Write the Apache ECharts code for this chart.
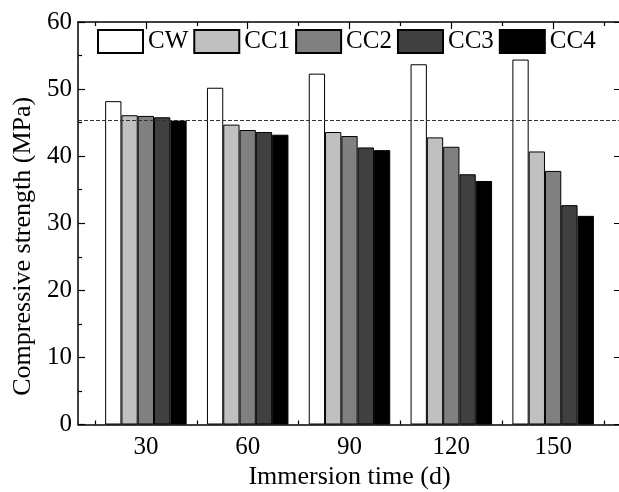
<!DOCTYPE html>
<html>
<head>
<meta charset="utf-8">
<script src="https://cdn.jsdelivr.net/npm/echarts@6/dist/echarts.min.js"></script>
<style>html,body{margin:0;padding:0;background:#fff}#c{width:619px;height:492px}</style>
</head>
<body>
<div id="c"></div>
<script>
const days = [30, 60, 90, 120, 150];
const seriesNames = ['CW', 'CC1', 'CC2', 'CC3', 'CC4'];
const cw  = [48.2, 50.2, 52.3, 53.7, 54.4];
const cc1 = [46.1, 44.7, 43.6, 42.8, 40.7];
const cc2 = [46.0, 43.9, 43.0, 41.4, 37.8];
const cc3 = [45.8, 43.6, 41.3, 37.3, 32.7];
const cc4 = [45.3, 43.2, 40.9, 36.3, 31.1];
const refLine = 45.4;
const xMajorTicks = [30, 60, 90, 120, 150];
const xMinorTicks = [15, 45, 75, 105, 135, 165];
const colors = ['#ffffff', '#c0c0c0', '#808080', '#404040', '#000000'];

const values = [cw, cc1, cc2, cc3, cc4];
const FONT = "'Liberation Serif', 'Times New Roman', Times, serif";

const chart = echarts.init(document.getElementById('c'), null, {renderer: 'canvas'});

function xAx(pos, major, showLabel) {
  return {
    type: 'value', min: 10, max: 170, position: pos,
    axisLine: {show: major, onZero: false, lineStyle: {color: '#000', width: 1.5}},
    axisTick: {show: true, inside: true, length: major ? 7 : 4,
      customValues: major ? xMajorTicks : xMinorTicks,
      lineStyle: {color: '#000', width: 1.2}},
    axisLabel: {show: showLabel, customValues: xMajorTicks, fontSize: 25, color: '#000',
      fontFamily: FONT, margin: 10},
    splitLine: {show: false},
    name: showLabel ? 'Immersion time (d)' : '',
    nameLocation: 'middle', nameGap: 40,
    nameTextStyle: {fontSize: 26, color: '#000', fontFamily: FONT}
  };
}

const series = seriesNames.map((n, i) => ({
  name: n, type: 'bar', xAxisIndex: 0, yAxisIndex: 0,
  barWidth: 16.3, barGap: '0%',
  itemStyle: {color: colors[i], borderColor: '#000', borderWidth: 1},
  data: days.map((d, j) => [d, values[i][j]])
}));
series[0].markLine = {
  silent: true, symbol: ['none', 'none'], label: {show: false},
  lineStyle: {type: [4, 2], color: '#333', width: 1},
  data: [{yAxis: refLine}]
};

chart.setOption({
  animation: false,
  backgroundColor: '#fff',
  grid: {left: 78, top: 22, width: 543, bottom: 67.5, containLabel: false, outerBoundsMode: 'none'},
  legend: {
    left: 97, top: 29, padding: 0, itemWidth: 45, itemHeight: 23, itemGap: 5,
    icon: 'rect',
    textStyle: {fontSize: 25, color: '#000', fontFamily: FONT},
    data: seriesNames
  },
  xAxis: [xAx('bottom', true, true), xAx('bottom', false, false), xAx('top', true, false), xAx('top', false, false)],
  yAxis: [
    {type: 'value', min: 0, max: 60, interval: 10, position: 'left',
     axisLine: {show: true, lineStyle: {color: '#000', width: 1.5}},
     axisTick: {show: true, inside: true, length: 7, lineStyle: {color: '#000', width: 1.2}},
     minorTick: {show: true, splitNumber: 2, length: 4, lineStyle: {color: '#000', width: 1.2}},
     axisLabel: {fontSize: 25, color: '#000', fontFamily: FONT, margin: 6},
     splitLine: {show: false},
     name: 'Compressive strength (MPa)', nameLocation: 'middle', nameGap: 42,
     nameTextStyle: {fontSize: 26, color: '#000', fontFamily: FONT, padding: [0, 46, 0, 0]}},
    {type: 'value', min: 0, max: 60, interval: 10, position: 'right',
     axisLine: {show: true, lineStyle: {color: '#000', width: 1.5}},
     axisTick: {show: true, inside: true, length: 7},
     axisLabel: {show: false}, splitLine: {show: false}}
  ],
  series: series
});
</script>
</body>
</html>
